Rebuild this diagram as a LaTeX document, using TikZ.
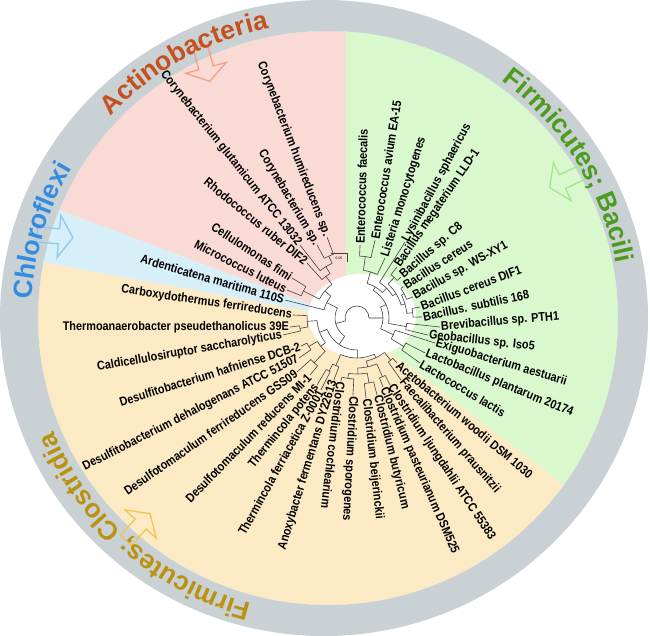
\documentclass[tikz,border=0pt]{standalone}
\usepackage{fontspec}
\setmainfont{Liberation Sans}
\newfontfamily\labfont{Liberation Sans}[FakeStretch=0.87]
\usetikzlibrary{calc,decorations.text}
\definecolor{ringc}{RGB}{201,209,213}
\definecolor{pinkc}{RGB}{250,218,212}
\definecolor{greenc}{RGB}{218,248,205}
\definecolor{bluec}{RGB}{214,239,249}
\definecolor{yellowc}{RGB}{252,234,196}
\definecolor{actc}{RGB}{196,82,30}
\definecolor{bacc}{RGB}{76,156,30}
\definecolor{chlc}{RGB}{52,140,222}
\definecolor{cloc}{RGB}{186,146,16}
\definecolor{acta}{RGB}{245,160,130}
\definecolor{baca}{RGB}{160,230,140}
\definecolor{chla}{RGB}{140,200,240}
\definecolor{cloa}{RGB}{245,195,80}
\newcommand\grpstyle{\bfseries\fontsize{26.5}{26.5}\selectfont}
\newcommand\tarc[3]{\draw[tree] ($(P)+(#2:#1)$) arc[start angle=#2, end angle=#3, radius=#1];}
\newcommand\tstem[3]{\draw[tree] ($(P)+(#1:#2)$) -- ($(P)+(#1:#3)$);}
\newcommand\leafR[5]{\node[lab, anchor=west, rotate=#4] (#1) at ($(P)+(#2:#3)$) {#5};}
\newcommand\leafL[5]{\node[lab, anchor=east, rotate=#4] (#1) at ($(P)+(#2:#3)$) {#5};}
\newcommand\blockarrow[3]{\begin{scope}[shift={#1}, rotate=#2]
  \draw[#3, line width=1.3pt, line join=miter] (-18,-7.5) -- (4,-7.5) -- (4,-21) -- (18,0) -- (4,21) -- (4,7.5) -- (-18,7.5) -- cycle;
\end{scope}}
\begin{document}
\begin{tikzpicture}[x=1pt,y=1pt,
  tree/.style={draw=black!75, line width=0.6pt},
  lab/.style={font={\labfont\bfseries\fontsize{12.5}{12.5}\selectfont}, inner sep=1pt, text=black}]
\useasboundingbox (0,-636) rectangle (650,0);
\coordinate (P) at (357,-318);
\coordinate (A) at (346,-318);
\coordinate (G) at (326,-318);
% coloured sectors
\begin{scope}
\clip (328,-318) ellipse [x radius=290, y radius=287];
\fill[pinkc] (A) -- ($(A)+(90:500)$) arc[start angle=90, end angle=159.4, radius=500] -- cycle;
\fill[bluec] (A) -- ($(A)+(159.4:500)$) arc[start angle=159.4, end angle=169.6, radius=500] -- cycle;
\fill[yellowc] (A) -- ($(A)+(169.6:500)$) arc[start angle=169.6, end angle=322.6, radius=500] -- cycle;
\fill[greenc] (A) -- ($(A)+(-37.4:500)$) arc[start angle=-37.4, end angle=90, radius=500] -- cycle;
\end{scope}
% ring
\fill[ringc, even odd rule] (324,-318) ellipse [x radius=324, y radius=318] (328,-318) ellipse [x radius=290, y radius=287];
% white centre
\fill[white] (362,-316) ellipse [x radius=54, y radius=42];
% tree: root
\tarc{12}{0.1}{194.5}\tstem{0.1}{12}{26}\tstem{194.5}{12}{22}
% Bacilli
\tarc{26}{-24.6}{24.8}
\tstem{-24.6}{26}{40}\tarc{40}{-31.35}{-17.8}
\tstem{-31.35}{40}{55}\tarc{55}{-35.5}{-27.2}
\tstem{-35.5}{55}{77.4}\tstem{-27.2}{55}{76.5}\tstem{-17.8}{40}{81.9}
\tstem{24.8}{26}{32}\tarc{32}{-9.85}{59.5}
\tstem{-9.85}{32}{50}\tarc{50}{-13.5}{-6.2}\tstem{-13.5}{50}{73}\tstem{-6.2}{50}{83.5}
\tstem{59.5}{32}{36}\tarc{36}{45.3}{73.7}
\tstem{73.7}{36}{48}\tarc{48}{65}{82.3}\tstem{65}{48}{66.2}
\tstem{82.3}{48}{62}\tarc{62}{77}{87.6}\tstem{77}{62}{80}\tstem{87.6}{62}{73.1}
\tstem{45.3}{36}{42}\tarc{42}{31.9}{57.7}\tstem{57.7}{42}{89.9}
\tstem{31.9}{42}{46}\tarc{46}{16.35}{47.45}
\tstem{47.45}{46}{55}\tarc{55}{43}{51.9}\tstem{43}{55}{60.1}\tstem{51.9}{55}{64.8}
\tstem{16.35}{46}{50}\tarc{50}{5.4}{27.3}
\tstem{27.3}{50}{53}\tarc{53}{20.6}{34}\tstem{20.6}{53}{59.8}\tstem{34}{53}{56}
\tstem{5.4}{50}{56}\tarc{56}{0.9}{9.9}\tstem{0.9}{56}{65}\tstem{9.9}{56}{64}
% Actinobacteria and Chloroflexi
\tarc{22}{153}{235.95}
\tstem{153}{22}{34}\tarc{34}{140}{166}\tstem{166}{34}{74.2}
\tstem{140}{34}{42}\tarc{42}{126.8}{153.3}
\tstem{153.3}{42}{60}\tarc{60}{148.4}{158.2}\tstem{148.4}{60}{76.3}\tstem{158.2}{60}{75.4}
\tstem{126.8}{42}{52}\tarc{52}{121.25}{132.3}\tstem{132.3}{52}{74.3}
\tstem{121.25}{52}{60}\tarc{60}{114.5}{128}\tstem{128}{60}{92.6}
\tstem{114.5}{60}{68}\tarc{68}{110.3}{118.7}\tstem{110.3}{68}{86.4}\tstem{118.7}{68}{83.2}
% Clostridia
\tstem{235.95}{22}{32}\tarc{32}{200.9}{271}
\tstem{200.9}{32}{40}\tarc{40}{183.8}{218}
\tstem{183.8}{40}{50}\tarc{50}{177.3}{190.3}\tstem{177.3}{50}{64.1}
\tstem{190.3}{50}{58}\tarc{58}{187.7}{192.9}\tstem{187.7}{58}{67.6}\tstem{192.9}{58}{75.9}
\tstem{218}{40}{46}\tarc{46}{210.6}{226.2}
\tstem{210.6}{46}{56}\tarc{56}{206.6}{214.6}\tstem{206.6}{56}{62.6}\tstem{214.6}{56}{70.5}
\tstem{226.2}{46}{62}\tarc{62}{222}{230.5}\tstem{222}{62}{80.7}\tstem{230.5}{62}{73.9}
\tstem{271}{32}{40}\tarc{40}{245.95}{295.4}
\tstem{245.95}{40}{52}\tarc{52}{242.3}{249.6}\tstem{249.6}{52}{66.1}
\tstem{242.3}{52}{60}\tarc{60}{239.2}{243.4}\tstem{239.2}{60}{78}\tstem{243.4}{60}{80.5}
\tstem{295.4}{40}{44}\tarc{44}{282.35}{308.5}
\tstem{308.5}{44}{54}\tarc{54}{305.4}{311.6}\tstem{305.4}{54}{76}\tstem{311.6}{54}{60.2}
\tstem{282.35}{44}{50}\tarc{50}{270.9}{293.4}
\tstem{293.4}{50}{64}\tarc{64}{290.6}{296.2}\tstem{290.6}{64}{73.7}\tstem{296.2}{64}{74.7}
\tstem{270.9}{50}{56}\tarc{56}{261.35}{280.5}
\tstem{261.35}{56}{61}\tarc{61}{255.7}{267}\tstem{255.7}{61}{65}\tstem{267}{61}{77.1}
\tstem{280.5}{56}{66}\tarc{66}{276.4}{284.6}\tstem{276.4}{66}{80.5}\tstem{284.6}{66}{79.6}
% scale bar
\draw[black!75, line width=0.5pt] (331,-253) -- (347,-253) -- (347,-262);
\node[font=\fontsize{3.5}{4}\selectfont, inner sep=0pt] (sb) at (339,-258) {0.05};
% leaf labels
\leafR{n1}{87.6}{73.1}{88.4}{Enterococcus faecalis}
\leafR{n2}{77}{80}{81}{Enterococcus avium EA-15}
\leafR{n3}{65}{66.2}{72.8}{Listeria monocytogenes}
\leafR{n4}{57.7}{89.9}{61.7}{Lysinibacillus sphaericus}
\leafR{n5}{51.9}{64.8}{55.5}{Bacillus megaterium LLD-1}
\leafR{n6}{43}{60.1}{41}{Bacillus sp. C8}
\leafR{n7}{34}{56}{33}{Bacillus cereus}
\leafR{n8}{20.6}{59.8}{29}{Bacillus sp. WS-XY1}
\leafR{n9}{9.9}{64}{20.5}{Bacillus cereus DIF1}
\leafR{n10}{0.9}{65}{12}{Bacillus. subtilis 168}
\leafR{n11}{-6.2}{83.5}{5}{Brevibacillus sp. PTH1}
\leafR{n12}{-13.5}{73}{-6.5}{Geobacillus sp. Iso5}
\leafR{n13}{-17.8}{81.9}{-16.5}{Exiguobacterium aestuarii}
\leafR{n14}{-27.2}{76.5}{-22.2}{Lactobacillus plantarum 20174}
\leafR{n15}{-35.5}{77.4}{-31}{Lactococcus lactis}
\leafR{n16}{-48.4}{60.2}{-40}{Acetobacterium woodii DSM 1030}
\leafR{n17}{-54.6}{76}{-49}{Faecalibacterium prausnitzii}
\leafR{n18}{-63.8}{74.7}{-56.3}{Clostridium ljungdahlii ATCC 55383}
\leafR{n19}{-69.4}{73.7}{-66.5}{Clostridium pasteurianum DSM525}
\leafR{n20}{-75.4}{79.6}{-76}{Clostridium butyricum}
\leafR{n21}{-83.6}{80.5}{-83.7}{Clostridium beijerinckii}
\leafR{n22}{-93}{77.1}{-93}{Clostridium sporogenes}
\leafR{n23}{-104.3}{65}{-97}{Clostridium cochlearium}
\leafL{n24}{-110.4}{66.1}{73}{Anoxybacter fermentans DY22613}
\leafL{n25}{-116.6}{80.5}{61}{Thermincola ferriacetica Z-0001}
\leafL{n26}{-120.8}{78}{51}{Thermincola potens}
\leafL{n27}{-129.5}{73.9}{45.7}{Desulfotomaculum reducens MI-1}
\leafL{n28}{-138}{80.7}{35}{Desulfotomaculum ferrireducens GSS09}
\leafL{n29}{-145.4}{70.5}{27}{Desulfitobacterium dehalogenans ATCC 51507}
\leafL{n30}{-153.4}{62.6}{17.2}{Desulfitobacterium hafniense DCB-2}
\leafL{n31}{-167.1}{75.9}{10}{Caldicellulosiruptor saccharolyticus}
\leafL{n32}{-172.3}{67.6}{0}{Thermoanaerobacter pseudethanolicus 39E}
\leafL{n33}{177.3}{64.1}{-8.4}{Carboxydothermus ferrireducens}
\leafL{n34}{166}{74.2}{-16.1}{Ardenticatena maritima 110S}
\leafL{n35}{158.2}{75.4}{-27}{Micrococcus luteus}
\leafL{n36}{148.4}{76.3}{-33.4}{Cellulomonas fimi}
\leafL{n37}{132.3}{74.3}{-39.3}{Rhodococcus ruber DIF2}
\leafL{n38}{128}{92.6}{-51.5}{Corynebacterium glutamicum ATCC 13032}
\leafL{n39}{118.7}{83.2}{-59.2}{Corynebacterium sp.}
\leafL{n40}{110.3}{86.4}{-69.2}{Corynebacterium humireducens sp.}
% group arrows
\blockarrow{(205,-64)}{-75}{acta}
\blockarrow{(566,-180)}{205}{baca}
\blockarrow{(55,-236)}{-5}{chla}
\blockarrow{(138,-527)}{48}{cloa}
% group names
\path[decorate, decoration={text along path, text={|\grpstyle|Actinobacteria}, text color=actc, text align=center}] ($(G)+(150:295)$) arc[start angle=150, end angle=88, radius=295];
\path[decorate, decoration={text along path, text={|\grpstyle|Firmicutes; Bacili}, text color=bacc, text align=center}] ($(G)+(65:295)$) arc[start angle=65, end angle=-1, radius=295];
\path[decorate, decoration={text along path, text={|\grpstyle|Chloroflexi}, text color=chlc, text align=center}] ($(G)+(195:295)$) arc[start angle=195, end angle=131, radius=295];
\path[decorate, decoration={text along path, text={|\grpstyle|Firmicutes; Clostridia}, text color=cloc, text align=center}] ($(G)+(270:295)$) arc[start angle=270, end angle=188, radius=295];
\end{tikzpicture}
\end{document}
